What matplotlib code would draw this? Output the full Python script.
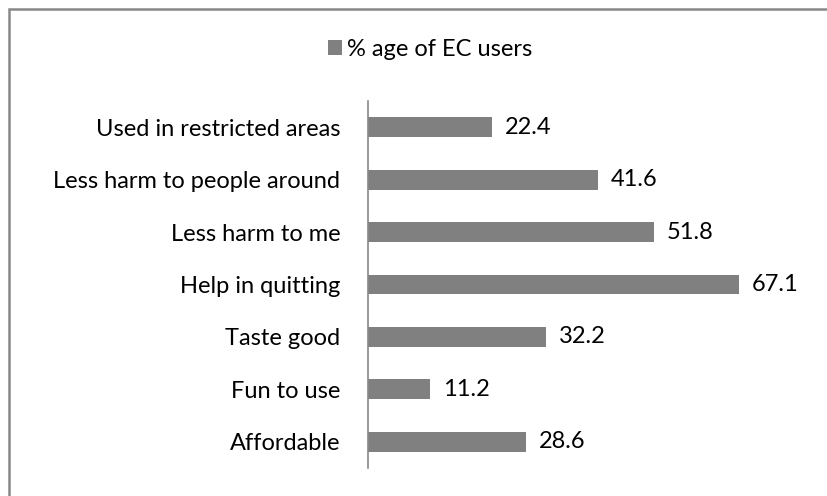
import matplotlib
matplotlib.use('Agg')
import matplotlib.pyplot as plt
from matplotlib.patches import Rectangle

plt.rcParams['font.family'] = ['Lato', 'DejaVu Sans']

categories = ['Affordable', 'Fun to use', 'Taste good', 'Help in quitting',
              'Less harm to me', 'Less harm to people around', 'Used in restricted areas']
values = [28.6, 11.2, 32.2, 67.1, 51.8, 41.6, 22.4]
series_name = '% age of EC users'

bar_color = '#808080'
fs = 17

fig = plt.figure(figsize=(8.27, 4.96), dpi=100)
ax = fig.add_axes([368 / 827, 1 - 468 / 496, (810 - 368) / 827, (468 - 101) / 496])

bars = ax.barh(range(len(categories)), values, height=0.38, color=bar_color, label=series_name)
for i, v in enumerate(values):
    ax.text(v + 2.3, i, f'{v}', va='center', ha='left', fontsize=fs)

ax.set_yticks(range(len(categories)))
ax.set_yticklabels(categories, fontsize=fs)
ax.set_ylim(-0.5, len(categories) - 0.5)
ax.set_xlim(0, 80)
ax.set_xticks([])
ax.tick_params(axis='y', length=0, pad=20)
for s in ['top', 'right', 'bottom']:
    ax.spines[s].set_visible(False)
ax.spines['left'].set_color('#888888')
ax.spines['left'].set_linewidth(1.2)

fig.legend(handles=[bars], labels=[series_name], loc='center', bbox_to_anchor=(430 / 827, 1 - 49 / 496),
           frameon=False, fontsize=fs, handlelength=0.6, handleheight=0.6, handletextpad=0.2)

fig.patches.append(Rectangle((9 / 827, -0.1), 1.1, 1 - 9 / 496 + 0.1, transform=fig.transFigure,
                             fill=False, edgecolor='#888888', linewidth=1.8))

fig.savefig('out.png', dpi=100)
